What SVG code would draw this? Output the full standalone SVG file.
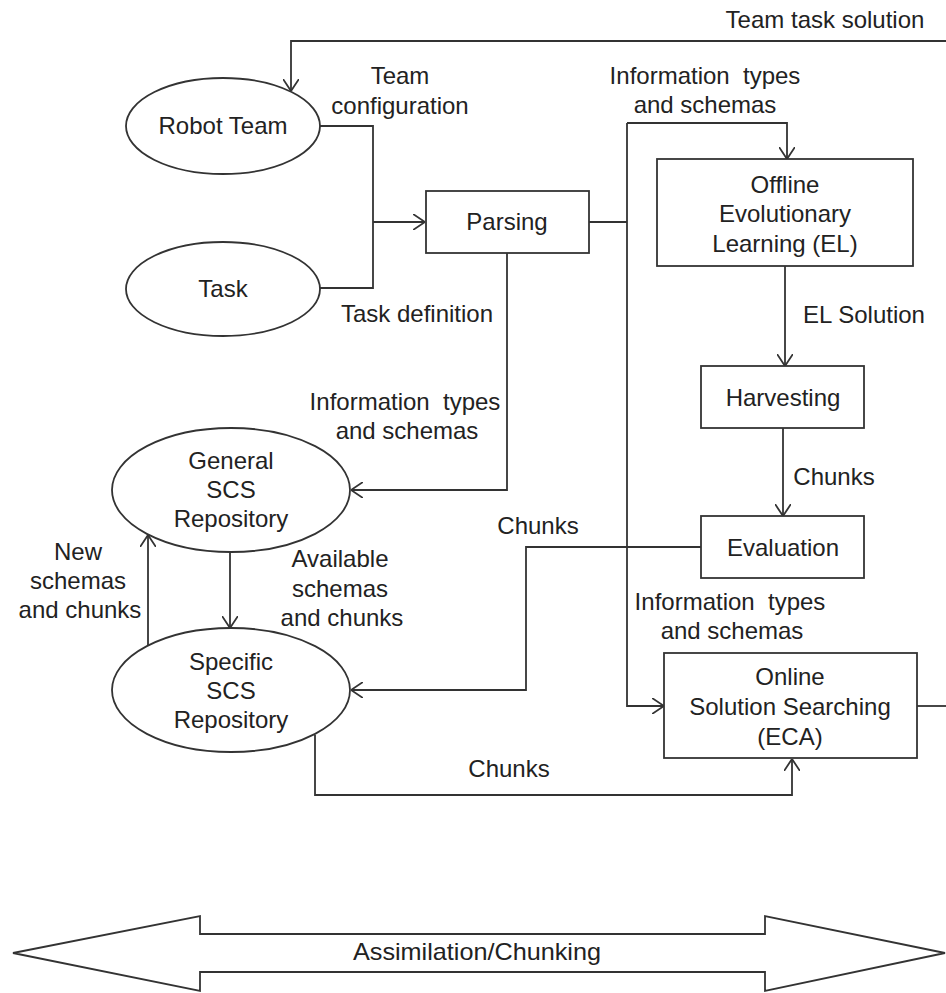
<svg xmlns="http://www.w3.org/2000/svg" width="946" height="993" viewBox="0 0 946 993">
  <style>
    .shape { fill: #fff; stroke: #333; stroke-width: 1.8; }
    .wire { fill: none; stroke: #333; stroke-width: 1.8; }
    text { font-family: "Liberation Sans", Arial, sans-serif; font-size: 24px; fill: #222; text-anchor: middle; }
  </style>
  <defs>
    <marker id="head" viewBox="0 0 12 16" refX="12" refY="8" markerWidth="12" markerHeight="16" markerUnits="userSpaceOnUse" orient="auto">
      <path d="M0,0 L12,8 L0,16" fill="none" stroke="#333" stroke-width="1.8"/>
    </marker>
  </defs>

  <rect width="946" height="993" fill="#fff"/>

  <!-- connectors -->
  <g id="connectors">
    <polyline class="wire" points="946,41 291,41 291,91" marker-end="url(#head)"/>
    <polyline class="wire" points="320,126 373,126 373,288 320,288"/>
    <polyline class="wire" points="373,222 425,222" marker-end="url(#head)"/>
    <polyline class="wire" points="507,253 507,490 351,490" marker-end="url(#head)"/>
    <polyline class="wire" points="589,222 627,222"/>
    <polyline class="wire" points="627,123 787,123 787,159" marker-end="url(#head)"/>
    <polyline class="wire" points="627,123 627,706 664,706" marker-end="url(#head)"/>
    <polyline class="wire" points="785,266 785,366" marker-end="url(#head)"/>
    <polyline class="wire" points="783,428 783,516" marker-end="url(#head)"/>
    <polyline class="wire" points="701,547 526,547 526,690 351,690" marker-end="url(#head)"/>
    <polyline class="wire" points="315,735 315,795 792,795 792,759" marker-end="url(#head)"/>
    <polyline class="wire" points="230,552 230,628" marker-end="url(#head)"/>
    <polyline class="wire" points="148,646 148,535" marker-end="url(#head)"/>
    <polyline class="wire" points="917,706 946,706"/>
  </g>

  <!-- connector labels -->
  <g id="labels">
    <text x="825" y="28">Team task solution</text>
    <text x="400" y="84">Team</text>
    <text x="400" y="114">configuration</text>
    <text x="417" y="322">Task definition</text>
    <text x="705" y="84">Information&#160; types</text>
    <text x="705" y="113">and schemas</text>
    <text x="864" y="323">EL Solution</text>
    <text x="834" y="485">Chunks</text>
    <text x="538" y="534">Chunks</text>
    <text x="730" y="610">Information&#160; types</text>
    <text x="732" y="639">and schemas</text>
    <text x="509" y="777">Chunks</text>
    <text x="405" y="410">Information&#160; types</text>
    <text x="407" y="439">and schemas</text>
    <text x="78" y="560">New</text>
    <text x="78" y="589">schemas</text>
    <text x="80" y="618">and chunks</text>
    <text x="340" y="567">Available</text>
    <text x="340" y="597">schemas</text>
    <text x="342" y="626">and chunks</text>
  </g>

  <g id="robot-team">
    <ellipse class="shape" cx="223" cy="126" rx="97" ry="48"/>
    <text x="223" y="134">Robot Team</text>
  </g>

  <g id="task">
    <ellipse class="shape" cx="223" cy="289" rx="97" ry="47"/>
    <text x="223" y="297">Task</text>
  </g>

  <g id="parsing">
    <rect class="shape" x="426" y="191" width="163" height="62"/>
    <text x="507" y="230">Parsing</text>
  </g>

  <g id="offline-el">
    <rect class="shape" x="657" y="159" width="256" height="107"/>
    <text x="785" y="193">Offline</text>
    <text x="785" y="222">Evolutionary</text>
    <text x="785" y="252">Learning (EL)</text>
  </g>

  <g id="harvesting">
    <rect class="shape" x="701" y="366" width="163" height="62"/>
    <text x="783" y="406">Harvesting</text>
  </g>

  <g id="evaluation">
    <rect class="shape" x="701" y="516" width="163" height="62"/>
    <text x="783" y="556">Evaluation</text>
  </g>

  <g id="online-eca">
    <rect class="shape" x="664" y="653" width="253" height="105"/>
    <text x="790" y="685">Online</text>
    <text x="790" y="715">Solution Searching</text>
    <text x="790" y="745">(ECA)</text>
  </g>

  <g id="general-scs">
    <ellipse class="shape" cx="231" cy="490" rx="119" ry="62"/>
    <text x="231" y="469">General</text>
    <text x="231" y="498">SCS</text>
    <text x="231" y="527">Repository</text>
  </g>

  <g id="specific-scs">
    <ellipse class="shape" cx="231" cy="690" rx="119" ry="62"/>
    <text x="231" y="670">Specific</text>
    <text x="231" y="699">SCS</text>
    <text x="231" y="728">Repository</text>
  </g>

  <g id="assimilation-chunking">
    <polygon class="shape" points="13,953 200,916 200,934 765,934 765,916 945,953 765,991 765,972 200,972 200,991"/>
    <text x="477" y="960" font-size="22" textLength="248" lengthAdjust="spacingAndGlyphs">Assimilation/Chunking</text>
  </g>
</svg>
